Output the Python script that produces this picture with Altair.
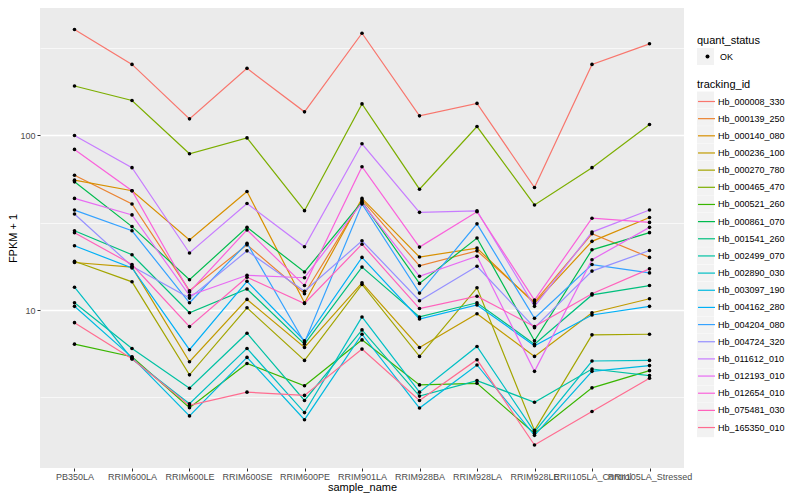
import altair as alt
import pandas as pd

samples = ["PB350LA", "RRIM600LA", "RRIM600LE", "RRIM600SE", "RRIM600PE", "RRIM901LA",
           "RRIM928BA", "RRIM928LA", "RRIM928LE", "RRII105LA_Control", "RRII105LA_Stressed"]

tracking_ids = ["Hb_000008_330", "Hb_000139_250", "Hb_000140_080", "Hb_000236_100",
                "Hb_000270_780", "Hb_000465_470", "Hb_000521_260", "Hb_000861_070",
                "Hb_001541_260", "Hb_002499_070", "Hb_002890_030", "Hb_003097_190",
                "Hb_004162_280", "Hb_004204_080", "Hb_004724_320", "Hb_011612_010",
                "Hb_012193_010", "Hb_012654_010", "Hb_075481_030", "Hb_165350_010"]

colors = ["#F8766D", "#EA8331", "#D89000", "#C09B00", "#A3A500", "#7CAE00", "#39B600",
          "#00BB4E", "#00BF7D", "#00C1A3", "#00BFC4", "#00BAE0", "#00B0F6", "#35A2FF",
          "#9590FF", "#C77CFF", "#E76BF3", "#FA62DB", "#FF62BC", "#FF6C90"]

# FPKM + 1 per sample (same order as samples)
hb_000008_330 = [402, 254, 124, 241, 136, 383, 129, 152, 50.2, 254, 333]
hb_000139_250 = [59.0, 40.4, 12.9, 23.6, 12.4, 42.6, 17.9, 21.8, 11.1, 27.3, 20.0]
hb_000140_080 = [55.3, 48.1, 25.2, 47.6, 11.0, 43.5, 20.1, 22.6, 10.9, 24.7, 33.8]
hb_000236_100 = [18.7, 17.6, 5.06, 11.5, 6.11, 14.3, 6.11, 9.53, 5.43, 9.65, 11.6]
hb_000270_780 = [19.0, 14.5, 4.26, 10.3, 5.15, 14.0, 5.43, 13.4, 2.05, 7.21, 7.27]
hb_000465_470 = [191, 158, 78.3, 96.5, 37.0, 151, 49.1, 112, 39.9, 65.2, 115]
hb_000521_260 = [6.38, 5.41, 2.76, 4.95, 3.69, 6.75, 3.73, 3.81, 1.97, 3.59, 4.50]
hb_000861_070 = [54.1, 30.0, 14.9, 29.7, 16.5, 41.6, 14.2, 25.8, 6.67, 22.1, 27.7]
hb_001541_260 = [28.4, 20.7, 9.65, 13.2, 6.38, 17.6, 9.13, 11.0, 6.38, 12.2, 13.8]
hb_002499_070 = [11.0, 6.03, 3.57, 7.37, 3.04, 7.70, 3.22, 3.95, 2.97, 4.60, 4.22]
hb_002890_030 = [13.5, 5.25, 2.91, 6.03, 2.59, 9.13, 3.39, 6.19, 2.01, 5.11, 5.15]
hb_003097_190 = [10.5, 5.36, 2.48, 5.36, 2.36, 7.27, 2.75, 4.85, 1.92, 4.46, 4.81]
hb_004162_280 = [23.3, 17.4, 5.93, 14.6, 6.67, 20.0, 8.89, 10.7, 6.25, 9.37, 10.5]
hb_004204_080 = [37.3, 28.4, 11.0, 24.1, 6.52, 40.4, 12.5, 31.1, 8.97, 18.2, 16.3]
hb_004724_320 = [35.4, 17.8, 11.7, 21.8, 12.8, 24.9, 11.3, 17.8, 7.93, 16.7, 21.9]
hb_011612_010 = [99.6, 65.2, 21.2, 40.7, 23.0, 89.3, 36.2, 36.9, 10.5, 27.9, 37.3]
hb_012193_010 = [43.5, 35.0, 12.1, 15.8, 15.3, 41.1, 15.6, 20.3, 4.46, 19.4, 29.7]
hb_012654_010 = [82.9, 48.1, 12.7, 28.7, 13.8, 66.0, 22.9, 36.5, 11.4, 33.5, 31.7]
hb_075481_030 = [27.7, 18.2, 8.04, 15.4, 10.9, 23.8, 10.2, 12.0, 8.04, 12.4, 17.2]
hb_165350_010 = [8.47, 5.27, 2.85, 3.39, 3.25, 5.98, 3.04, 5.20, 1.69, 2.63, 4.07]

series = [hb_000008_330, hb_000139_250, hb_000140_080, hb_000236_100, hb_000270_780,
          hb_000465_470, hb_000521_260, hb_000861_070, hb_001541_260, hb_002499_070,
          hb_002890_030, hb_003097_190, hb_004162_280, hb_004204_080, hb_004724_320,
          hb_011612_010, hb_012193_010, hb_012654_010, hb_075481_030, hb_165350_010]

rows = []
for tid, vals in zip(tracking_ids, series):
    for s, v in zip(samples, vals):
        rows.append({"tracking_id": tid, "key_id": "key " + tid, "sample_name": s,
                     "fpkm": v, "quant_status": "OK", "key_status": "key OK"})
df = pd.DataFrame(rows)
key_ids = ["key " + t for t in tracking_ids]

FONT = "Liberation Sans"
major = "datum.value == 10 || datum.value == 100"

x_enc = alt.X("sample_name:N", sort=samples,
              scale=alt.Scale(type="point", padding=0.6),
              axis=alt.Axis(labelAngle=0, labelOverlap=False, labelBound=False,
                            title="sample_name", gridWidth=1.3, labelPadding=1,
                            titlePadding=0))
y_enc = alt.Y("fpkm:Q",
              scale=alt.Scale(type="log", domain=[1.249, 533.7], nice=False, zero=False),
              axis=alt.Axis(values=[3.1623, 10, 31.623, 100, 316.23],
                            labelExpr="(" + major + ") ? format(datum.value, 'd') : ''",
                            gridWidth={"condition": {"test": major, "value": 1.3}, "value": 0.65},
                            tickOpacity={"condition": {"test": major, "value": 1}, "value": 0},
                            title="FPKM + 1", titlePadding=1, labelPadding=2))

base = alt.Chart(df)

LX = 657

key_fill = base.mark_square(size=0).encode(
    x=x_enc, y=y_enc,
    fill=alt.Fill("key_id:N",
                  scale=alt.Scale(domain=key_ids, range=["#F2F2F2"] * len(key_ids)),
                  legend=alt.Legend(title=None, orient="none", legendX=LX, legendY=83.5,
                                    symbolType="square", symbolSize=289, symbolStrokeWidth=0,
                                    labelExpr="''", rowPadding=0.3, symbolOpacity=1)))

key_ok = base.mark_square(size=0, color="#F2F2F2").encode(
    x=x_enc, y=y_enc,
    opacity=alt.Opacity("key_status:N",
                        scale=alt.Scale(domain=["key OK"], range=[1]),
                        legend=alt.Legend(title="quant_status", orient="none", legendX=LX, legendY=27,
                                          symbolType="square", symbolSize=289, symbolStrokeWidth=0,
                                          symbolFillColor="#F2F2F2", labelExpr="''",
                                          symbolOpacity=1)))

lines = base.mark_line(strokeWidth=1.2).encode(
    x=x_enc, y=y_enc,
    stroke=alt.Stroke("tracking_id:N",
                      scale=alt.Scale(domain=tracking_ids, range=colors),
                      legend=alt.Legend(title="tracking_id", orient="none", legendX=LX, legendY=71,
                                        symbolType="stroke", symbolSize=289, symbolStrokeWidth=1.2,
                                        rowPadding=2.16, labelOffset=2)))

points = base.mark_point(filled=True, color="black", size=13, opacity=1).encode(
    x=x_enc, y=y_enc,
    shape=alt.Shape("quant_status:N",
                    scale=alt.Scale(domain=["OK"], range=["circle"]),
                    legend=alt.Legend(title=None, orient="none", legendX=LX + 6, legendY=44,
                                      symbolSize=16, symbolFillColor="black", symbolStrokeWidth=0,
                                      labelOffset=8)))

chart = alt.layer(key_fill, key_ok, lines, points).properties(
    width=644, height=460,
    autosize=alt.AutoSizeParams(type="none"),
    padding={"left": 32, "top": 0, "right": 108, "bottom": 28},
).configure_view(
    fill="#EBEBEB", strokeWidth=0
).configure_axis(
    labelFont=FONT, labelFontSize=9, labelColor="#4D4D4D",
    tickColor="#333333", tickSize=3, domain=False,
    gridColor="#FFFFFF",
    titleFont=FONT, titleFontSize=11, titleFontWeight="normal", titleColor="#000000",
).configure_legend(
    labelFont=FONT, labelFontSize=9, labelColor="#000000",
    titleFont=FONT, titleFontSize=11, titleFontWeight="normal", titleColor="#000000",
    padding=0, titlePadding=2,
)

chart.save("out.html", embed_options={"renderer": "svg", "actions": False})
